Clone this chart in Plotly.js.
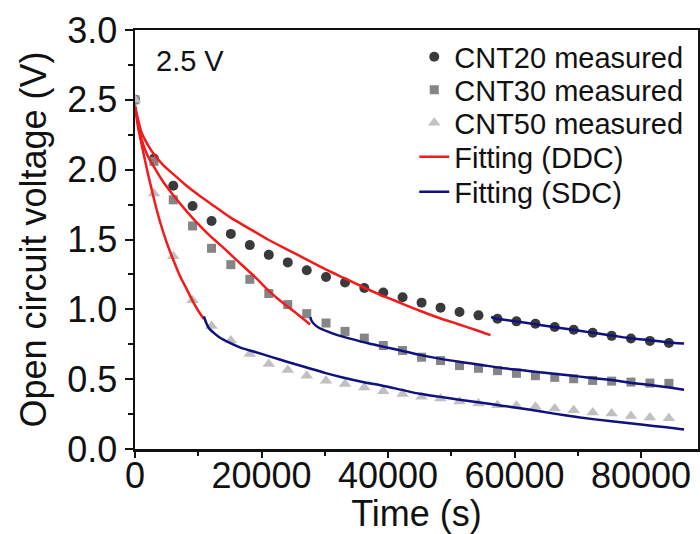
<!DOCTYPE html>
<html>
<head>
<meta charset="utf-8">
<script src="https://cdn.plot.ly/plotly-3.0.1.min.js"></script>
<style>
  html, body { margin: 0; padding: 0; background: #fff; }
  #chart { width: 700px; height: 534px; }
</style>
</head>
<body>
<div id="chart"></div>
<script>
// ---- Measured data (time in s, voltage in V) ----
const timeMeasured = [0, 3000, 6050, 9100, 12100, 15150, 18150, 21150, 24150, 27150,
  30200, 33200, 36250, 39250, 42300, 45300, 48300, 51300, 54300, 57300,
  60300, 63300, 66350, 69350, 72350, 75350, 78400, 81400, 84400];
const vCNT20 = [2.50, 2.08, 1.885, 1.74, 1.633, 1.54, 1.46, 1.39, 1.336, 1.28,
  1.232, 1.192, 1.153, 1.12, 1.086, 1.048, 1.012, 0.981, 0.957, 0.933,
  0.914, 0.897, 0.873, 0.854, 0.832, 0.81, 0.791, 0.774, 0.759];
const vCNT30 = [2.50, 2.06, 1.784, 1.597, 1.437, 1.32, 1.215, 1.113, 1.034, 0.969,
  0.902, 0.842, 0.794, 0.741, 0.705, 0.657, 0.633, 0.597, 0.578, 0.561,
  0.542, 0.525, 0.513, 0.503, 0.491, 0.486, 0.479, 0.472, 0.470];
const vCNT50 = [2.50, 1.83, 1.38, 1.065, 0.88, 0.777, 0.681, 0.609, 0.566, 0.525,
  0.489, 0.465, 0.441, 0.414, 0.393, 0.374, 0.362, 0.34, 0.326, 0.314,
  0.309, 0.302, 0.29, 0.278, 0.261, 0.254, 0.237, 0.225, 0.221];

// ---- Fitting curves: DDC (red) ----
const ddc20T = [0, 1000, 2000, 3000, 4500, 6000, 8000, 10000, 12500, 15000, 18000, 21000,
  24000, 27000, 30000, 33000, 36000, 39000, 42000, 45000, 48000, 51000, 54000, 56200];
const ddc20V = [2.46, 2.27, 2.18, 2.11, 2.03, 1.97, 1.89, 1.82, 1.74, 1.66, 1.58, 1.50,
  1.43, 1.36, 1.29, 1.225, 1.16, 1.10, 1.045, 0.99, 0.94, 0.895, 0.85, 0.815];
const ddc30T = [0, 1000, 2000, 3000, 4500, 6000, 8000, 10000, 12000, 14000, 16600, 19000,
  21200, 23000, 25000, 27690];
const ddc30V = [2.45, 2.22, 2.10, 2.02, 1.91, 1.82, 1.71, 1.61, 1.52, 1.44, 1.33, 1.23,
  1.13, 1.06, 0.99, 0.892];
const ddc50T = [0, 500, 1000, 2000, 3000, 4000, 5000, 6000, 7000, 8000, 9000, 10000, 10900];
const ddc50V = [2.45, 2.30, 2.19, 1.98, 1.79, 1.62, 1.48, 1.36, 1.25, 1.16, 1.07, 0.99, 0.93];

// ---- Fitting curves: SDC (blue) ----
const sdc20T = [56300, 57000, 60000, 63000, 66000, 69000, 72000, 75000, 78000, 81000, 84000, 86800];
const sdc20V = [0.945, 0.935, 0.915, 0.895, 0.875, 0.855, 0.835, 0.815, 0.795, 0.78, 0.765, 0.755];
const sdc30T = [27700, 27900, 28300, 29000, 30500, 32000, 34000, 37000, 40000, 43000, 46000,
  49000, 52000, 55000, 58000, 61000, 64000, 67000, 70000, 73000, 76000, 79000, 82000, 84500, 86800];
const sdc30V = [0.945, 0.92, 0.895, 0.87, 0.84, 0.815, 0.79, 0.755, 0.725, 0.695, 0.665,
  0.64, 0.62, 0.60, 0.58, 0.565, 0.55, 0.535, 0.52, 0.505, 0.49, 0.47, 0.455, 0.44, 0.425];
const sdc50T = [10900, 11200, 11700, 12500, 13500, 15000, 17000, 19000, 21500, 24000, 27000,
  30000, 33000, 36000, 39000, 42000, 45000, 48000, 51000, 54500, 58000, 62000, 66000, 70400,
  75000, 80000, 84000, 86800];
const sdc50V = [0.95, 0.91, 0.865, 0.83, 0.795, 0.76, 0.72, 0.695, 0.66, 0.625, 0.585,
  0.545, 0.51, 0.48, 0.455, 0.425, 0.395, 0.375, 0.355, 0.333, 0.31, 0.285, 0.255, 0.225,
  0.20, 0.175, 0.155, 0.14];

const seriesNames = ['CNT20 measured', 'CNT30 measured', 'CNT50 measured', 'Fitting (DDC)', 'Fitting (SDC)'];
const xTickVals = [0, 20000, 40000, 60000, 80000];
const yTickVals = [0, 0.5, 1.0, 1.5, 2.0, 2.5, 3.0];

function joinSegments(segs) {
  const x = [], y = [];
  segs.forEach((s, i) => {
    if (i > 0) { x.push(null); y.push(null); }
    x.push(...s[0]); y.push(...s[1]);
  });
  return {x, y};
}
const red = joinSegments([[ddc20T, ddc20V], [ddc30T, ddc30V], [ddc50T, ddc50V]]);
const blue = joinSegments([[sdc20T, sdc20V], [sdc30T, sdc30V], [sdc50T, sdc50V]]);

const traces = [
  {x: timeMeasured, y: vCNT20, name: seriesNames[0], type: 'scatter', mode: 'markers', legend: 'legend',
   marker: {symbol: 'circle', size: 10, color: '#3a3a3a'}},
  {x: timeMeasured, y: vCNT30, name: seriesNames[1], type: 'scatter', mode: 'markers', legend: 'legend2',
   marker: {symbol: 'square', size: 9, color: '#858585'}},
  {x: timeMeasured, y: vCNT50, name: seriesNames[2], type: 'scatter', mode: 'markers', legend: 'legend3',
   marker: {symbol: 'triangle-up', size: 11, color: '#c0c0c0'}},
  {x: red.x, y: red.y, name: seriesNames[3], type: 'scatter', mode: 'lines', legend: 'legend4',
   connectgaps: false, line: {color: '#f21b1b', width: 2.5, shape: 'spline', smoothing: 0.6}},
  {x: blue.x, y: blue.y, name: seriesNames[4], type: 'scatter', mode: 'lines', legend: 'legend5',
   connectgaps: false, line: {color: '#10107e', width: 2.5, shape: 'spline', smoothing: 0.6}}
];

const fam = 'Arial, "Liberation Sans", sans-serif';
const axisFont = {family: fam, size: 36, color: '#111'};
const legendFont = {family: fam, size: 29, color: '#111'};
function legendAt(y) {
  return {x: 0.496, y: y, xanchor: 'left', yanchor: 'middle', bgcolor: 'rgba(0,0,0,0)',
          borderwidth: 0, font: legendFont, itemwidth: 30};
}

const layout = {
  width: 700, height: 534,
  margin: {l: 135, r: 2, t: 30, b: 85},
  paper_bgcolor: '#fff', plot_bgcolor: '#fff',
  font: {family: fam, color: '#111'},
  showlegend: true,
  xaxis: {
    range: [0, 89000], tickvals: xTickVals, ticktext: xTickVals.map(String),
    ticks: 'outside', ticklen: 6, tickwidth: 2, tickcolor: '#111',
    minor: {dtick: 10000, tick0: 0, ticks: 'outside', ticklen: 4, tickwidth: 2, tickcolor: '#111'},
    showline: true, linecolor: '#111', linewidth: 2.5, mirror: true,
    showgrid: false, zeroline: false,
    tickfont: axisFont, ticklabelstandoff: -13,
    title: {text: 'Time (s)', font: axisFont, standoff: 4}
  },
  yaxis: {
    range: [0, 3.0], tickvals: yTickVals, ticktext: yTickVals.map(v => v.toFixed(1)),
    ticks: 'outside', ticklen: 8, tickwidth: 2, tickcolor: '#111',
    minor: {dtick: 0.25, tick0: 0, ticks: 'outside', ticklen: 5, tickwidth: 2, tickcolor: '#111'},
    showline: true, linecolor: '#111', linewidth: 2.5, mirror: true,
    showgrid: false, zeroline: false,
    tickfont: axisFont,
    title: {text: 'Open circuit voltage (V)', font: axisFont, standoff: 10}
  },
  legend: legendAt(0.9356),
  legend2: legendAt(0.8568),
  legend3: legendAt(0.778),
  legend4: legendAt(0.6969),
  legend5: legendAt(0.6134),
  annotations: [{
    text: '2.5 V', xref: 'paper', yref: 'paper', x: 0.034, y: 0.925,
    xanchor: 'left', yanchor: 'middle', showarrow: false,
    font: legendFont
  }]
};

Plotly.newPlot('chart', traces, layout, {displayModeBar: false, staticPlot: true});
</script>
</body>
</html>
